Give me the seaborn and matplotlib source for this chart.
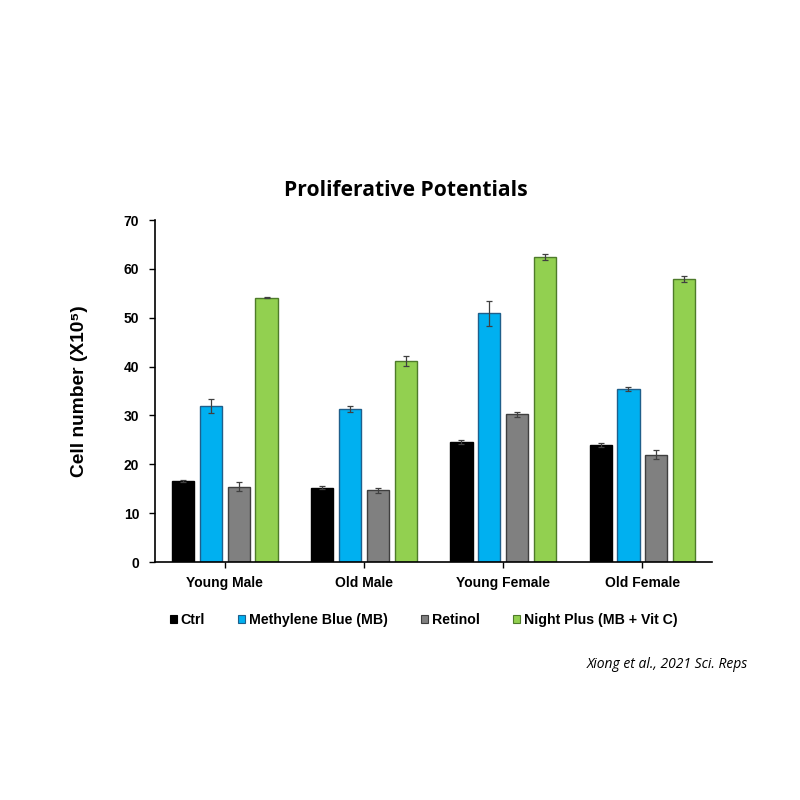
import pandas as pd
import matplotlib
matplotlib.use('Agg')
import matplotlib.pyplot as plt
import seaborn as sns

# ==========================================
# DATA
# ==========================================
groups = ['Young Male', 'Old Male', 'Young Female', 'Old Female']
treatments = ['Ctrl', 'Methylene Blue (MB)', 'Retinol', 'Night Plus (MB + Vit C)']

ctrl_vals = [16.6, 15.2, 24.6, 24.0]
mb_vals = [31.9, 31.3, 50.9, 35.5]
retinol_vals = [15.4, 14.7, 30.2, 22.0]
night_vals = [54.1, 41.1, 62.4, 57.9]

ctrl_err = [0.2, 0.3, 0.4, 0.4]
mb_err = [1.5, 0.6, 2.6, 0.4]
retinol_err = [0.9, 0.5, 0.5, 1.0]
night_err = [0.1, 1.0, 0.6, 0.6]

fill_colors = ['#000000', '#00B0F0', '#808080', '#92D050']
edge_colors = ['#000000', '#1F5F8B', '#3F3F3F', '#4E7B2A']

rows = []
for t, vals, errs in zip(treatments,
                         [ctrl_vals, mb_vals, retinol_vals, night_vals],
                         [ctrl_err, mb_err, retinol_err, night_err]):
    for g, v, e in zip(groups, vals, errs):
        rows.append({'Group': g, 'Treatment': t, 'Value': v, 'Err': e})
df = pd.DataFrame(rows)

# ==========================================
# PLOT
# ==========================================
sns.set_theme(style='white')
plt.rcParams['font.family'] = ['Liberation Sans', 'DejaVu Sans']
plt.rcParams['text.color'] = 'black'
plt.rcParams['axes.labelcolor'] = 'black'
plt.rcParams['xtick.color'] = 'black'
plt.rcParams['ytick.color'] = 'black'

fig = plt.figure(figsize=(8, 8), dpi=100)
ax = fig.add_axes([0.194, 0.2975, 0.696, 0.4275])

sns.barplot(data=df, x='Group', y='Value', hue='Treatment',
            order=groups, hue_order=treatments,
            palette=fill_colors, saturation=1, errorbar=None,
            width=0.8, gap=0.2, linewidth=1, ax=ax, legend=False)

# viền cột + thanh sai số đặt ở tâm mỗi cột
for i, t in enumerate(treatments):
    cont = ax.containers[i]
    sub = df[df['Treatment'] == t].set_index('Group').loc[groups]
    xs = []
    for bar in cont:
        bar.set_edgecolor(edge_colors[i])
        xs.append(bar.get_x() + bar.get_width() / 2)
    ax.errorbar(xs, sub['Value'], yerr=sub['Err'], fmt='none',
                ecolor='#404040', elinewidth=0.9, capsize=2.5, capthick=0.9)

ax.set_ylim(0, 70)
ax.set_yticks(range(0, 71, 10))
ax.set_xlim(-0.5, 3.5)
ax.set_xlabel('')
ax.set_ylabel('Cell number (X10\u2075)', fontsize=13.8, fontweight='bold',
              labelpad=26)

for side in ['top', 'right']:
    ax.spines[side].set_visible(False)
for side in ['left', 'bottom']:
    ax.spines[side].set_color('black')
    ax.spines[side].set_linewidth(1.2)

ax.tick_params(axis='y', direction='out', length=4, width=1, left=True,
               labelsize=10, pad=7.5)
ax.tick_params(axis='x', direction='out', length=4, width=1, bottom=True,
               labelsize=10, pad=6)
for lab in ax.get_xticklabels() + ax.get_yticklabels():
    lab.set_fontweight('bold')

fig.text(0.5075, 0.7625, 'Proliferative Potentials', ha='center', va='center',
         fontsize=15.1, fontweight='bold', family=['Open Sans', 'DejaVu Sans'])

# chú thích
handles = [plt.Rectangle((0, 0), 1, 1, facecolor=c, edgecolor=e, linewidth=0.8)
           for c, e in zip(fill_colors, edge_colors)]
fig.legend(handles, treatments, loc='center left',
           bbox_to_anchor=(0.2125, 0.225), ncol=4, frameon=False,
           handlelength=0.5, handleheight=0.5, handletextpad=0.25,
           columnspacing=2.35, borderpad=0, borderaxespad=0,
           prop={'weight': 'bold', 'size': 10.2})

fig.text(0.935, 0.17, 'Xiong et al., 2021 Sci. Reps', ha='right', va='center',
         fontsize=10, style='italic', family=['Open Sans', 'DejaVu Sans'])

fig.savefig('out.png', dpi=100, facecolor='white')
